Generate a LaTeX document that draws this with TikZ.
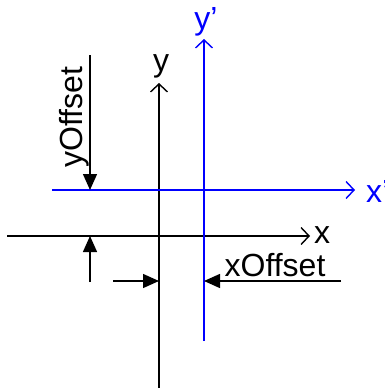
\documentclass[tikz,border=0pt]{standalone}
\usepackage{fontspec}
\setmainfont{Liberation Sans}
\usetikzlibrary{arrows.meta}

\begin{document}
\begin{tikzpicture}[x=1pt,y=-1pt,
  every node/.style={font=\fontsize{32}{34}\selectfont, inner sep=0pt},
  axis/.style={-{Straight Barb[length=8pt,width=17pt]}, line width=1.4pt},
  offs/.style={-{Triangle[length=16pt,width=14pt]}, line width=1.4pt},
]
\useasboundingbox (0,0) rectangle (385,388);

% original axes (black)
\coordinate (xstart) at (7,236);
\coordinate (xend)   at (310,236);
\coordinate (ystart) at (159,388);
\coordinate (yend)   at (159,83);
\draw[axis] (xstart) -- (xend);
\draw[axis] (ystart) -- (yend);
\node (xlbl) at (322,235) {x};
\node (ylbl) at (161,66)  {y};

% shifted axes (blue)
\coordinate (xpstart) at (52,190);
\coordinate (xpend)   at (355,190);
\coordinate (ypstart) at (204,341);
\coordinate (ypend)   at (204,39);
\draw[axis, blue] (xpstart) -- (xpend);
\draw[axis, blue] (ypstart) -- (ypend);
\node[blue, anchor=west] (xplbl) at (366,191) {x'};
\node[blue] (yplbl) at (206,22) {y'};

% yOffset
\coordinate (yofftop) at (90,55);
\coordinate (yoffmid) at (90,190);
\coordinate (yoffbot) at (90,282);
\coordinate (yoffx)   at (90,236);
\draw[offs] (yofftop) -- (yoffmid);
\draw[offs] (yoffbot) -- (yoffx);
\node[rotate=90] (yofflbl) at (74,117) {yOffset};

% xOffset
\coordinate (xoffleft)  at (113,281);
\coordinate (xoffy)     at (159,281);
\coordinate (xoffright) at (341,281);
\coordinate (xoffyp)    at (204,281);
\draw[offs] (xoffleft) -- (xoffy);
\draw[offs] (xoffright) -- (xoffyp);
\node (xofflbl) at (275,265) {xOffset};
\end{tikzpicture}
\end{document}
